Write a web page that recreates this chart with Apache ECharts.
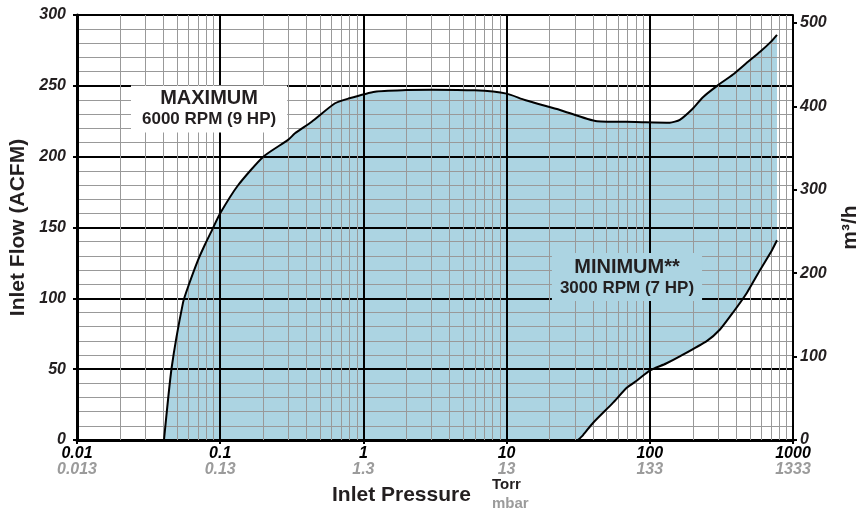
<!DOCTYPE html>
<html><head><meta charset="utf-8">
<script src="https://cdn.jsdelivr.net/npm/echarts/dist/echarts.min.js"></script>
<style>html,body{margin:0;padding:0;background:#fff}#c{width:859px;height:516px}</style>
</head><body><div id="c"></div>
<script>
// Tick labels
const torrTicks = ['0.01', '0.1', '1', '10', '100', '1000'];
const mbarTicks = ['0.013', '0.13', '1.3', '13', '133', '1333'];
// Maximum curve: [pressure Torr, flow ACFM]
const maxCurve = [
  [0.0405, 0], [0.0458, 51], [0.055, 97], [0.0596, 108], [0.070, 127], [0.0783, 138],
  [0.0875, 148], [0.1, 160], [0.1337, 180], [0.2, 200], [0.299, 212], [0.333, 216.5],
  [0.4355, 224.7], [0.6335, 237.7], [0.785, 241], [1.205, 245.9], [2, 247], [3, 247.3],
  [6, 246.8], [10, 244.5], [13.4, 240], [23.6, 233], [42.8, 225], [80, 224.5], [138, 224],
  [162, 226], [200, 234], [235, 242], [295, 250], [381, 258], [485, 267], [589, 274],
  [700, 281], [773, 286]
];
// Minimum curve: [pressure Torr, flow ACFM]
const minCurve = [
  [31.5, 0], [34.2, 3.5], [40.1, 12], [55, 26], [69.3, 37], [81.4, 42], [100, 49],
  [130, 54], [162, 59], [251, 70], [309, 78], [381, 90], [477, 104], [589, 120],
  [713, 134], [773, 141]
];
const acfmToM3h = 1.699;

const FONT = '"Liberation Sans", Arial, Helvetica, sans-serif';
const TXT = '#231f20';
const GREY = '#9b9b9b';
const FILL = '#acd4e2';

// minor vertical grid values (2..9 in each decade)
const minorX = [];
[0.01, 0.1, 1, 10, 100].forEach(d => { for (let k = 2; k <= 9; k++) minorX.push(+(d * k).toPrecision(3)); });

// fill polygon: along max curve, back along min curve
const polygon = maxCurve.concat(minCurve.slice().reverse());

const chart = echarts.init(document.getElementById('c'));
chart.setOption({
  animation: false,
  backgroundColor: '#fff',
  textStyle: { fontFamily: FONT },
  grid: { left: 77, right: 66, top: 15, bottom: 76, containLabel: false, outerBoundsMode: 'none' },
  xAxis: {
    type: 'log', logBase: 10, min: 0.01, max: 1000, splitNumber: 5, z: 4,
    axisLine: { show: true, lineStyle: { color: '#000', width: 3 } },
    axisTick: { show: true, length: 4, lineStyle: { color: '#000', width: 2 } },
    splitLine: { show: true, lineStyle: { color: '#000', width: 2 } },
    axisLabel: {
      margin: 6,
      formatter: function (v) {
        const i = Math.round(Math.log10(v)) + 2;
        return '{a|' + torrTicks[i] + '}\n{b|' + mbarTicks[i] + '}';
      },
      rich: {
        a: { fontFamily: FONT, fontSize: 16, fontWeight: 'bold', fontStyle: 'italic', color: '#000', lineHeight: 16 },
        b: { fontFamily: FONT, fontSize: 16, fontWeight: 'bold', fontStyle: 'italic', color: GREY, lineHeight: 16 }
      }
    }
  },
  yAxis: [{
    type: 'value', min: 0, max: 300, interval: 50, z: 3,
    name: 'Inlet Flow (ACFM)', nameLocation: 'middle', nameGap: 45,
    nameTextStyle: { fontFamily: FONT, fontSize: 21, fontWeight: 'bold', color: TXT },
    axisLine: { show: true, lineStyle: { color: '#000', width: 3 } },
    axisTick: { show: true, length: 4, lineStyle: { color: '#000', width: 2 } },
    axisLabel: { margin: 11, fontFamily: FONT, fontSize: 16, fontWeight: 'bold', fontStyle: 'italic', color: TXT },
    splitLine: { show: true, lineStyle: { color: '#000', width: 2 } },
    minorTick: { show: false, splitNumber: 5 },
    minorSplitLine: { show: true, lineStyle: { color: '#999', width: 1 } }
  }, {
    type: 'value', min: 0, max: 300 * acfmToM3h, interval: 100, position: 'right', z: 3,
    name: 'm³/h', nameLocation: 'middle', nameGap: 47, nameRotate: 90,
    nameTextStyle: { fontFamily: FONT, fontSize: 21, fontWeight: 'bold', color: TXT },
    axisLine: { show: true, lineStyle: { color: '#000', width: 2 } },
    axisTick: { show: true, length: 4, lineStyle: { color: '#000', width: 2 } },
    axisLabel: { margin: 7, fontFamily: FONT, fontSize: 16, fontWeight: 'bold', fontStyle: 'italic', color: TXT,
      formatter: v => Math.round(v) },
    splitLine: { show: false }
  }],
  graphic: [
    { type: 'text', left: 332, top: 485, style: { text: 'Inlet Pressure', font: 'bold 21px ' + FONT, fill: TXT } },
    { type: 'text', left: 492, top: 477, style: { text: 'Torr', font: 'bold 15px ' + FONT, fill: TXT } },
    { type: 'text', left: 492, top: 496, style: { text: 'mbar', font: 'bold 15px ' + FONT, fill: GREY } }
  ],
  series: [
    {
      type: 'custom', coordinateSystem: 'cartesian2d', z: 1, silent: true,
      data: [polygon[0]],
      renderItem: function (params, api) {
        return {
          type: 'polygon',
          shape: { points: polygon.map(p => api.coord(p)) },
          style: { fill: FILL }
        };
      }
    },
    {
      type: 'line', z: 2, silent: true, data: [], showSymbol: false, color: '#999',
      markLine: {
        silent: true, symbol: 'none', label: { show: false },
        lineStyle: { color: '#999', width: 1, type: 'solid', opacity: 1 },
        emphasis: { disabled: true },
        data: minorX.map(v => ({ xAxis: v, lineStyle: { color: '#999', width: 1, type: 'solid', opacity: 1 } }))
      }
    },
    {
      name: 'max', type: 'line', z: 6, data: maxCurve, showSymbol: false, smooth: 0.2, silent: true,
      lineStyle: { color: '#000', width: 2 }
    },
    {
      name: 'min', type: 'line', z: 6, data: minCurve, showSymbol: false, smooth: 0.2, silent: true,
      lineStyle: { color: '#000', width: 2 }
    },
    {
      type: 'scatter', z: 10, silent: true, symbolSize: 1, itemStyle: { color: 'rgba(0,0,0,0)' },
      label: {
        show: true, position: 'inside', color: TXT, opacity: 1, textBorderWidth: 0, textShadowBlur: 0,
        rich: {
          t: { fontFamily: FONT, fontSize: 20, fontWeight: 'bold', color: TXT, lineHeight: 22, align: 'center', textBorderWidth: 0 },
          s: { fontFamily: FONT, fontSize: 17, fontWeight: 'bold', color: TXT, lineHeight: 20, align: 'center', textBorderWidth: 0 }
        }
      },
      data: [
        { value: [0.0836, 233.6], label: { formatter: '{t|MAXIMUM}\n{s|6000 RPM (9 HP)}', backgroundColor: '#fff', padding: [2, 11, 3, 11] } },
        { value: [69.3, 115], label: { formatter: '{t|MINIMUM**}\n{s|3000 RPM (7 HP)}', backgroundColor: FILL, padding: [3, 8, 3, 8] } }
      ]
    }
  ]
});
</script>
</body></html>
